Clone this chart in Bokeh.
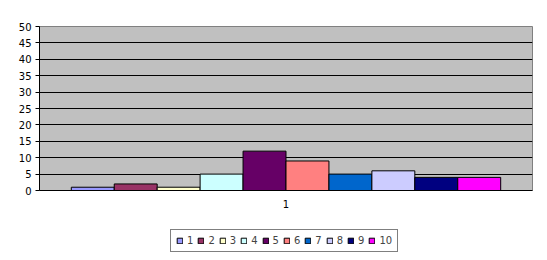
from bokeh.plotting import figure
from bokeh.layouts import column
from bokeh.models import FactorRange, Range1d, FixedTicker, ColumnDataSource, Legend
from bokeh.transform import dodge
from bokeh.embed import file_html
from bokeh.resources import INLINE

categories = ["1"]
series = ["1", "2", "3", "4", "5", "6", "7", "8", "9", "10"]
values = [1, 2, 1, 5, 12, 9, 5, 6, 4, 4]
colors = ["#9999FF", "#993366", "#FFFFCC", "#CCFFFF", "#660066",
          "#FF8080", "#0066CC", "#CCCCFF", "#000080", "#FF00FF"]
y_ticks = [0, 5, 10, 15, 20, 25, 30, 35, 40, 45, 50]

p = figure(width=547, height=215, x_range=FactorRange(*categories),
           y_range=Range1d(0, 50), output_backend="svg", toolbar_location=None,
           min_border_left=39, min_border_right=15, min_border_top=26,
           min_border_bottom=25)
p.background_fill_color = "#C0C0C0"
p.border_fill_color = "white"
p.outline_line_color = "#808080"

# legend strip below the chart (its bars fall outside its y range)
p2 = figure(width=547, height=45, x_range=FactorRange(*categories),
            y_range=Range1d(1000, 1001), output_backend="svg",
            toolbar_location=None, x_axis_type=None, y_axis_type=None,
            min_border=0)
p2.outline_line_color = None
p2.background_fill_color = "white"
p2.border_fill_color = "white"

bar_w = 0.0871
n = len(series)
items = []
for i, (s, v, c) in enumerate(zip(series, values, colors)):
    src = ColumnDataSource(dict(cat=categories, top=[v]))
    p.vbar(x=dodge("cat", (i - (n - 1) / 2) * bar_w, range=p.x_range),
           top="top", width=bar_w, source=src, fill_color=c,
           line_color="black", line_width=1)
    r2 = p2.vbar(x=dodge("cat", (i - (n - 1) / 2) * bar_w, range=p2.x_range),
                 top="top", width=bar_w, source=src, fill_color=c,
                 line_color="black", line_width=1)
    items.append((s, [r2]))

p.xgrid.grid_line_color = None
p.ygrid.grid_line_color = "black"
p.ygrid.ticker = FixedTicker(ticks=y_ticks)

p.yaxis.ticker = FixedTicker(ticks=y_ticks)
p.yaxis.major_tick_in = 0
p.yaxis.major_tick_out = 4
p.yaxis.minor_tick_line_color = None
p.yaxis.axis_line_color = "black"
p.yaxis.major_label_text_font = "DejaVu Sans"
p.yaxis.major_label_text_font_size = "10px"
p.yaxis.major_label_text_color = "black"
p.yaxis.major_label_standoff = 4

p.xaxis.major_tick_line_color = None
p.xaxis.major_tick_out = 0
p.xaxis.axis_line_color = "black"
p.xaxis.major_label_text_font = "DejaVu Sans"
p.xaxis.major_label_text_font_size = "10px"
p.xaxis.major_label_text_color = "black"
p.xaxis.major_label_standoff = 9

leg = Legend(items=items, orientation="horizontal", location=(131, 8),
             glyph_width=7, glyph_height=7,
             label_text_font="DejaVu Sans", label_text_font_size="10px",
             label_standoff=4, label_width=0, label_height=10, spacing=4,
             padding=5, margin=0, border_line_color="black",
             border_line_width=1, background_fill_color="white",
             background_fill_alpha=1)
p2.add_layout(leg, "center")

layout = column(p, p2, spacing=0)
open("out.html", "w").write(file_html(layout, INLINE))
